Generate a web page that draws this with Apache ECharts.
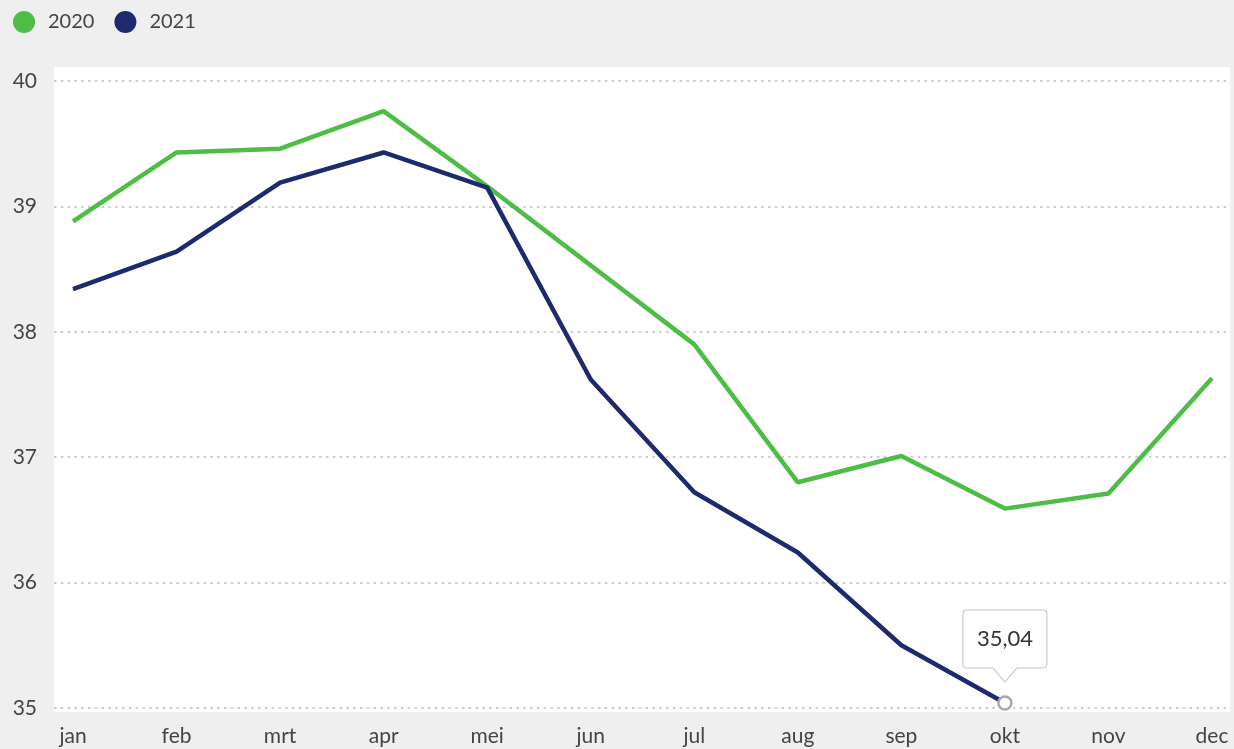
<!DOCTYPE html>
<html>
<head>
<meta charset="utf-8">
<script src="https://cdn.jsdelivr.net/npm/echarts@6/dist/echarts.min.js"></script>
<style>
  html, body { margin: 0; padding: 0; background: #efefef; }
  #chart { width: 1234px; height: 749px; }
</style>
</head>
<body>
<div id="chart"></div>
<script>
const months = ['jan', 'feb', 'mrt', 'apr', 'mei', 'jun', 'jul', 'aug', 'sep', 'okt', 'nov', 'dec'];
const years = ['2020', '2021'];
const values2020 = [38.88, 39.43, 39.46, 39.76, 39.16, 38.53, 37.90, 36.80, 37.01, 36.59, 36.71, 37.63];
const values2021 = [38.34, 38.64, 39.19, 39.43, 39.15, 37.62, 36.72, 36.24, 35.50, 35.04];
const yMin = 35, yMax = 40, yStep = 1;

const green = '#4dbd45';
const navy = '#1d2a6d';
const font = 'Lato, "Open Sans", sans-serif';

// laatste punt van 2021 krijgt een marker + label
const lastIdx = values2021.length - 1;
const lastVal = values2021[lastIdx];

const chart = echarts.init(document.getElementById('chart'));

const option = {
  animation: false,
  backgroundColor: '#efefef',
  textStyle: { fontFamily: font },
  graphic: [{
    type: 'rect',
    z: -10,
    left: 54, top: 67,
    shape: { width: 1176, height: 645 },
    style: { fill: '#ffffff' }
  }],
  legend: {
    left: 8, top: 6,
    icon: 'circle',
    itemWidth: 22, itemHeight: 22,
    itemGap: 20,
    textStyle: { fontSize: 20, color: '#444', fontFamily: font, padding: [0, 0, 0, 8] },
    data: years
  },
  grid: { left: 54, right: 4, top: 81, bottom: 41 },
  xAxis: {
    type: 'value',
    min: -0.1835,
    max: 11.174,
    axisLine: { show: false },
    axisTick: { show: false },
    splitLine: { show: false },
    axisLabel: {
      customValues: months.map((m, i) => i),
      formatter: v => months[Math.round(v)] || '',
      fontSize: 21, color: '#444', margin: 18, fontFamily: font
    }
  },
  yAxis: {
    type: 'value',
    min: yMin, max: yMax, interval: yStep,
    axisLine: { show: false },
    axisTick: { show: false },
    axisLabel: { fontSize: 21, color: '#444', margin: 17, fontFamily: font },
    splitLine: { lineStyle: { color: '#cdcdcd', width: 2, type: [2.5, 4.3] } }
  },
  series: [
    {
      name: years[0],
      type: 'line',
      color: green,
      symbol: 'none',
      lineStyle: { width: 4.5, color: green },
      data: values2020.map((v, i) => [i, v])
    },
    {
      name: years[1],
      type: 'line',
      color: navy,
      symbol: 'none',
      showSymbol: true,
      lineStyle: { width: 4.5, color: navy },
      data: values2021.map((v, i) => i === lastIdx
        ? { value: [i, v], symbol: 'circle', symbolSize: 13,
            itemStyle: { color: '#fff', borderColor: '#a9a9a9', borderWidth: 2.5 } }
        : [i, v]),
      markPoint: {
        silent: true,
        symbol: 'path://M4,0 H80 Q84,0 84,4 V54 Q84,58 80,58 H54 L42,72 L30,58 H4 Q0,58 0,54 V4 Q0,0 4,0 Z',
        symbolSize: [84, 72],
        symbolOffset: [0, -57],
        itemStyle: { color: '#fff', borderColor: '#c4c4c4', borderWidth: 1 },
        label: {
          show: true,
          position: 'inside',
          offset: [0, -7],
          fontSize: 22, color: '#333', fontFamily: font,
          formatter: p => p.value.toFixed(2).replace('.', ',')
        },
        data: [{ coord: [lastIdx, lastVal], value: lastVal }]
      }
    }
  ]
};

chart.setOption(option);
</script>
</body>
</html>
